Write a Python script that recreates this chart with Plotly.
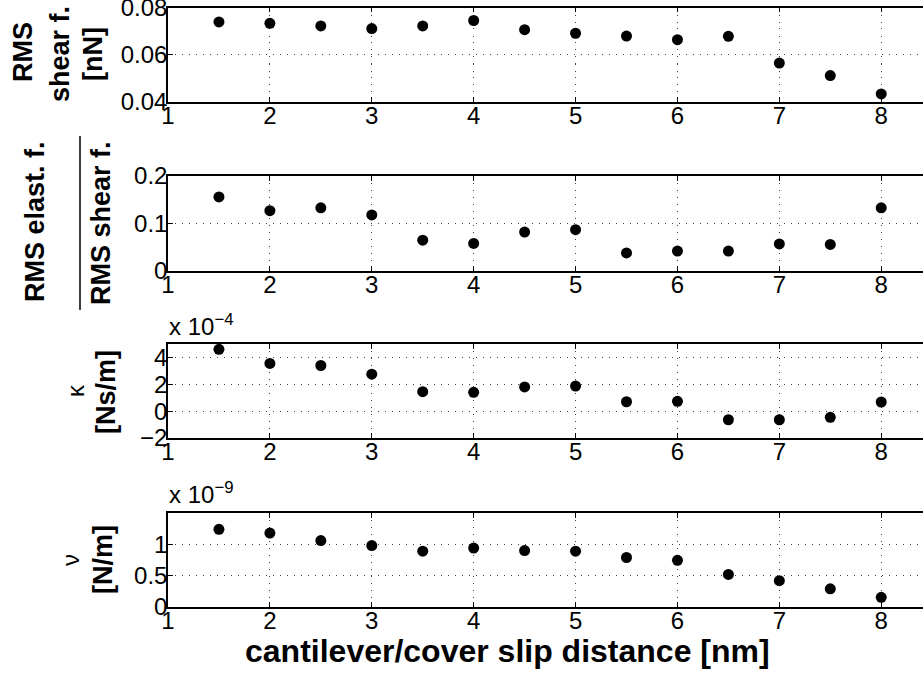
import plotly.graph_objects as go

# slip distances [nm]
distance = [1.5, 2, 2.5, 3, 3.5, 4, 4.5, 5, 5.5, 6, 6.5, 7, 7.5, 8]

# RMS shear force [nN]
rms_shear = [0.0739, 0.0733, 0.0722, 0.0711, 0.0722, 0.0745, 0.0706,
             0.0691, 0.0679, 0.0664, 0.0678, 0.0565, 0.0512, 0.0434]

# RMS elastic force / RMS shear force
force_ratio = [0.156, 0.127, 0.133, 0.118, 0.065, 0.058, 0.082,
               0.087, 0.038, 0.042, 0.042, 0.057, 0.056, 0.133]

# damping kappa [Ns/m]
kappa = [4.6e-4, 3.55e-4, 3.4e-4, 2.75e-4, 1.45e-4, 1.4e-4, 1.8e-4,
         1.87e-4, 0.70e-4, 0.73e-4, -0.64e-4, -0.64e-4, -0.46e-4, 0.68e-4]

# stiffness nu [N/m]
nu = [1.24e-9, 1.18e-9, 1.06e-9, 0.98e-9, 0.89e-9, 0.94e-9, 0.90e-9,
      0.89e-9, 0.79e-9, 0.745e-9, 0.52e-9, 0.42e-9, 0.29e-9, 0.155e-9]

x_ticks = [1, 2, 3, 4, 5, 6, 7, 8]

panels = [
    dict(y=rms_shear, rng=[0.04, 0.08], tv=[0.04, 0.06, 0.08],
         tt=["0.04", "0.06", "0.08"], top=7.5, bottom=102),
    dict(y=force_ratio, rng=[0, 0.2], tv=[0, 0.1, 0.2],
         tt=["0", "0.1", "0.2"], top=176, bottom=271),
    dict(y=kappa, rng=[-2e-4, 5e-4], tv=[-2e-4, 0, 2e-4, 4e-4],
         tt=["\u22122", "0", "2", "4"], top=344, bottom=438),
    dict(y=nu, rng=[0, 1.5e-9], tv=[0, 0.5e-9, 1e-9],
         tt=["0", "0.5", "1"], top=513, bottom=607),
]

W, H = 923, 677
LEFT = 168
FONT = "Liberation Sans, Arial, sans-serif"
TICK_SIZE = 24


def px_x(p):
    return p / W


def px_y(p):
    return 1 - p / H


fig = go.Figure()
layout = dict(
    width=W, height=H,
    margin=dict(l=0, r=0, t=0, b=0, autoexpand=False),
    paper_bgcolor="white", plot_bgcolor="white",
    showlegend=False,
    font=dict(family=FONT, size=TICK_SIZE, color="black"),
)

for i, p in enumerate(panels, start=1):
    xa = "x" if i == 1 else f"x{i}"
    ya = "y" if i == 1 else f"y{i}"
    fig.add_trace(go.Scatter(
        x=distance, y=p["y"], mode="markers",
        marker=dict(color="black", size=11, line=dict(width=0)),
        xaxis=xa, yaxis=ya, hoverinfo="skip", cliponaxis=False,
    ))
    axis_common = dict(
        showline=True, linecolor="black", linewidth=1.5,
        ticks="inside", ticklen=5, tickwidth=1, tickcolor="black",
        showgrid=True, gridcolor="rgba(0,0,0,0.75)", gridwidth=1,
        griddash="1px,6px", zeroline=False, automargin=False,
        ticklabeloverflow="allow",
        tickfont=dict(family=FONT, size=TICK_SIZE, color="black"),
    )
    layout[f"xaxis{'' if i == 1 else i}"] = dict(
        axis_common,
        domain=[LEFT / W, 1], range=[1, 8.41], anchor=ya,
        tickvals=x_ticks, ticktext=[str(v) for v in x_ticks],
        mirror="ticks", ticklabelstandoff=-9,
    )
    layout[f"yaxis{'' if i == 1 else i}"] = dict(
        axis_common,
        domain=[px_y(p["bottom"]), px_y(p["top"])], range=p["rng"],
        anchor=xa, tickvals=p["tv"], ticktext=p["tt"],
        mirror=False, ticklabelstandoff=-6,
    )

fig.update_layout(**layout)


def label(text, x, y, size=27, bold=True, angle=-90):
    fig.add_annotation(
        text=f"<b>{text}</b>" if bold else text,
        x=px_x(x), y=px_y(y), xref="paper", yref="paper",
        xanchor="center", yanchor="middle", showarrow=False,
        textangle=angle, font=dict(family=FONT, size=size, color="black"),
    )


# panel 1 label
label("RMS", 23, 52)
label("shear f.", 60, 54)
label("[nN]", 93, 54)

# panel 2 label (ratio)
label("RMS elast. f.", 35, 222)
label("RMS shear f.", 101, 223)
fig.add_shape(type="line", xref="paper", yref="paper",
              x0=px_x(80), x1=px_x(80), y0=px_y(136), y1=px_y(310),
              line=dict(color="black", width=1.5))

# panel 3 label
label("\u03ba", 75, 391, size=24, bold=False)
label("[Ns/m]", 106, 392)

# panel 4 label
label("\u03bd", 70, 560, size=24, bold=False)
label("[N/m]", 103, 560)

# exponent labels
for txt, yc in [("x 10<sup>\u22124</sup>", 325), ("x 10<sup>\u22129</sup>", 493)]:
    fig.add_annotation(
        text=txt, x=px_x(LEFT - 1), y=px_y(yc), xref="paper", yref="paper",
        xanchor="left", yanchor="middle", showarrow=False,
        font=dict(family=FONT, size=24, color="black"),
    )

# x axis title
label("cantilever/cover slip distance [nm]", 507, 651, size=32, angle=0)

fig.write_html("out.html")
